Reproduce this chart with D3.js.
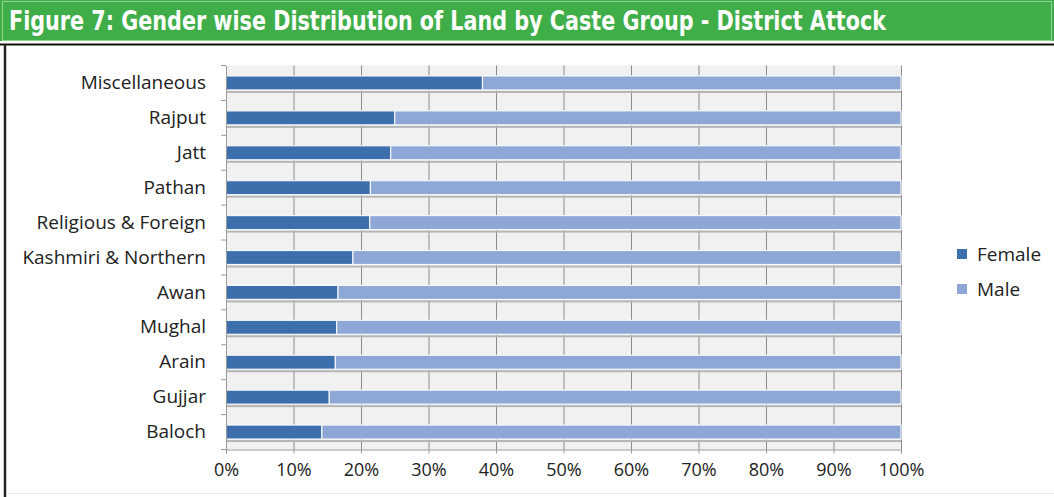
<!DOCTYPE html>
<html>
<head>
<meta charset="utf-8">
<script src="https://cdn.jsdelivr.net/npm/d3@7"></script>
<style>
  html, body { margin: 0; padding: 0; background: #fff; }
  svg { display: block; }
</style>
</head>
<body>
<svg id="chart" width="1054" height="497"></svg>
<script>
// Caste groups, top to bottom
const categories = ["Miscellaneous", "Rajput", "Jatt", "Pathan", "Religious & Foreign",
  "Kashmiri & Northern", "Awan", "Mughal", "Arain", "Gujjar", "Baloch"];
// Share of land (%) held by women and men in each group
const female = [38.0, 25.0, 24.4, 21.4, 21.3, 18.8, 16.6, 16.4, 16.2, 15.3, 14.2];
const male = [62.0, 75.0, 75.6, 78.6, 78.7, 81.2, 83.4, 83.6, 83.8, 84.7, 85.8];
const seriesNames = ["Female", "Male"];
const tickValues = [0, 10, 20, 30, 40, 50, 60, 70, 80, 90, 100];
const titleText = "Figure 7: Gender wise Distribution of Land by Caste Group - District Attock";

const colors = { Female: "#3d6fad", Male: "#8fa7d6" };
const svg = d3.select("#chart");
const W = 1054, H = 497;
const font = "'Open Sans', 'DejaVu Sans', sans-serif";

// Title banner
svg.append("rect").attr("x", 0).attr("y", 0).attr("width", W).attr("height", 41).attr("fill", "#3fae49");
svg.append("rect").attr("x", 2.5).attr("y", 1.5).attr("width", W - 5).attr("height", 39)
  .attr("fill", "none").attr("stroke", "#8fd493").attr("stroke-width", 1);
svg.append("text").attr("x", 9).attr("y", 30)
  .attr("font-family", "'DejaVu Sans Condensed', 'DejaVu Sans', sans-serif")
  .attr("font-weight", "bold").attr("font-size", 27).attr("fill", "#fff")
  .attr("textLength", 877).attr("lengthAdjust", "spacingAndGlyphs")
  .text(titleText);

// Chart frame
svg.append("line").attr("x1", 0).attr("x2", W).attr("y1", 44.5).attr("y2", 44.5)
  .attr("stroke", "#111").attr("stroke-width", 2);
svg.append("line").attr("x1", 5).attr("x2", 5).attr("y1", 44).attr("y2", H)
  .attr("stroke", "#222").attr("stroke-width", 2.5);
svg.append("line").attr("x1", 6).attr("x2", W).attr("y1", 493.5).attr("y2", 493.5)
  .attr("stroke", "#e6e6e6").attr("stroke-width", 1);

const margin = { left: 226, right: 901, top: 65.5, bottom: 449.5 };
const x = d3.scaleLinear().domain([0, 100]).range([margin.left, margin.right]);
const y = d3.scaleBand().domain(categories).range([margin.top, margin.bottom]).paddingInner(0).paddingOuter(0);

// Plot background
svg.append("rect").attr("x", x(0)).attr("y", margin.top)
  .attr("width", x(100) - x(0)).attr("height", margin.bottom - margin.top)
  .attr("fill", "#f1f1f1");

// Vertical gridlines
svg.append("g").selectAll("line").data(tickValues.slice(1)).join("line")
  .attr("x1", d => x(d) + 0.5).attr("x2", d => x(d) + 0.5)
  .attr("y1", margin.top).attr("y2", margin.bottom)
  .attr("stroke", "#8c8c8c").attr("stroke-width", 1);

// Stacked bars
const stackData = categories.map((c, i) => ({ cat: c, Female: female[i], Male: male[i] }));
const stacked = d3.stack().keys(seriesNames)(stackData);
const barH = 14;

// Bar shadow beneath each row
svg.append("g").selectAll("rect").data(stackData).join("rect")
  .attr("x", x(0)).attr("y", d => y(d.cat) + y.bandwidth() / 2 + barH / 2 + 1)
  .attr("width", d => x(d.Female + d.Male) - x(0)).attr("height", 2)
  .attr("fill", "#b5b5b5");

svg.append("g").selectAll("g").data(stacked).join("g")
  .attr("fill", d => colors[d.key])
  .selectAll("rect").data(d => d).join("rect")
  .attr("x", d => x(d[0]))
  .attr("y", d => y(d.data.cat) + y.bandwidth() / 2 - barH / 2)
  .attr("width", d => x(d[1]) - x(d[0]))
  .attr("height", barH)
  .attr("stroke", "#f4f7fb").attr("stroke-width", 1.2);

// Y axis
const yAxis = svg.append("g").attr("transform", `translate(${x(0)},0)`)
  .call(d3.axisLeft(y).tickSize(0).tickPadding(20));
yAxis.select(".domain").attr("stroke", "#9a9a9a");
yAxis.selectAll("text").attr("font-family", font)
  .attr("font-size", 19).attr("fill", "#222");
// Category separator ticks
svg.append("g").selectAll("line").data(d3.range(categories.length + 1)).join("line")
  .attr("x1", x(0) - 5).attr("x2", x(0))
  .attr("y1", i => margin.top + i * y.step()).attr("y2", i => margin.top + i * y.step())
  .attr("stroke", "#9a9a9a");

// X axis
const xAxis = svg.append("g").attr("transform", `translate(0,${margin.bottom})`)
  .call(d3.axisBottom(x).tickValues(tickValues).tickFormat(d => d + "%").tickSize(4).tickPadding(10));
xAxis.select(".domain").attr("stroke", "#9a9a9a");
xAxis.selectAll(".tick line").attr("stroke", "#9a9a9a");
xAxis.selectAll("text").attr("font-family", font)
  .attr("font-size", 18).attr("fill", "#222");

// Legend
const legend = svg.append("g").attr("transform", "translate(957,254)");
legend.selectAll("g").data(seriesNames).join("g")
  .attr("transform", (d, i) => `translate(0,${i * 35})`)
  .call(g => {
    g.append("rect").attr("x", 0).attr("y", -5).attr("width", 10).attr("height", 10)
      .attr("fill", d => colors[d]);
    g.append("text").attr("x", 20).attr("y", 0).attr("dy", "0.35em")
      .attr("font-family", font)
      .attr("font-size", 19).attr("fill", "#222").text(d => d);
  });
</script>
</body>
</html>
